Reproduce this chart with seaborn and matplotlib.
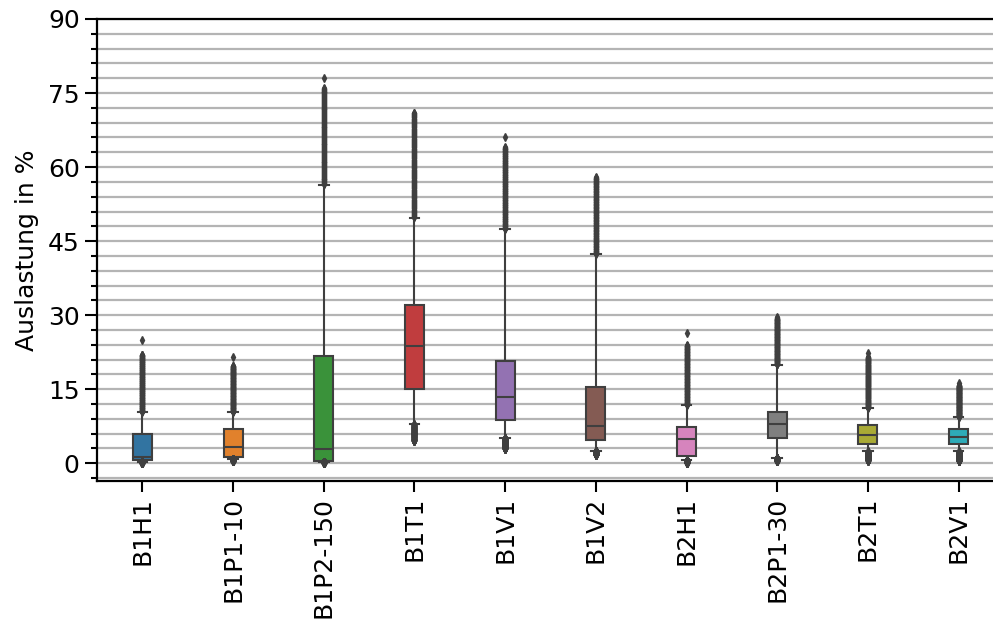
import numpy as np
import pandas as pd
import matplotlib
matplotlib.use("Agg")
import matplotlib.pyplot as plt
from matplotlib.ticker import MultipleLocator
import seaborn as sns

# Load categories and their distribution summary (values in %)
categories = ["B1H1", "B1P1-10", "B1P2-150", "B1T1", "B1V1",
              "B1V2", "B2H1", "B2P1-30", "B2T1", "B2V1"]
flier_min = [0.0, 0.4, 0.0, 4.5, 2.9, 1.7, 0.0, 0.4, 0.5, 0.4]
whisk_lo = [0.3, 0.8, 0.3, 7.9, 5.1, 2.5, 0.6, 1.0, 2.4, 2.4]
q1 = [0.6, 1.2, 0.5, 15.0, 8.8, 4.7, 1.5, 5.1, 3.9, 3.9]
median = [1.2, 3.3, 2.9, 23.7, 13.5, 7.6, 5.0, 8.0, 5.8, 5.3]
q3 = [6.0, 7.0, 21.8, 32.1, 20.7, 15.4, 7.4, 10.4, 7.8, 7.0]
whisk_hi = [10.4, 10.4, 56.4, 49.7, 47.4, 42.4, 11.8, 20.0, 11.2, 9.4]
run_top = [22.0, 19.7, 76.0, 70.9, 64.0, 57.8, 23.9, 29.4, 21.5, 15.8]
flier_max = [24.9, 21.6, 78.1, 70.9, 66.0, 58.0, 26.3, 29.7, 22.4, 16.3]

# Rebuild per-category samples whose percentiles follow the summary above
pct_knots = [0, 5, 25, 50, 75, 95, 99.975, 100]
n_obs = 4001
grid_pct = np.linspace(0, 100, n_obs)
frames = []
for i, cat in enumerate(categories):
    knots = [flier_min[i], whisk_lo[i], q1[i], median[i], q3[i],
             whisk_hi[i], run_top[i], flier_max[i]]
    frames.append(pd.DataFrame({"Strang": cat,
                                "Auslastung": np.interp(grid_pct, pct_knots, knots)}))
df = pd.concat(frames, ignore_index=True)

fs = 18
line_gray = "#3f3f3f"
fig = plt.figure(figsize=(9.93, 6.24), dpi=100)
ax = fig.add_axes([97 / 993, 1 - 481 / 624, 907 / 993, (481 - 19) / 624])

ax.set_axisbelow(True)
sns.boxplot(data=df, x="Strang", y="Auslastung", hue="Strang", order=categories,
            hue_order=categories, palette="tab10", legend=False, width=0.21,
            whis=(5, 95), linewidth=1.5, linecolor=line_gray,
            flierprops={"marker": "d", "markersize": 3.6,
                        "markerfacecolor": line_gray,
                        "markeredgecolor": line_gray},
            ax=ax)

ax.set_xlim(-0.5, 9.5)
ax.set_ylim(-3.6, 90)
ax.yaxis.set_major_locator(MultipleLocator(15))
ax.yaxis.set_minor_locator(MultipleLocator(3))
ax.grid(axis="y", which="both", color="#b4b4b4", linewidth=1.6)
ax.grid(axis="x", visible=False)

ax.set_xlabel("")
ax.set_ylabel("Auslastung in %", fontsize=fs, labelpad=6)
ax.tick_params(axis="y", which="major", labelsize=fs, length=9, width=1.5)
ax.tick_params(axis="y", which="minor", length=4.5, width=1.5)
ax.tick_params(axis="x", labelsize=fs, length=8, width=1.5, labelrotation=90)

for side in ["left", "bottom", "top"]:
    ax.spines[side].set_linewidth(1.6)
    ax.spines[side].set_color("black")
ax.spines["right"].set_visible(False)

fig.savefig("out.png", dpi=100)
